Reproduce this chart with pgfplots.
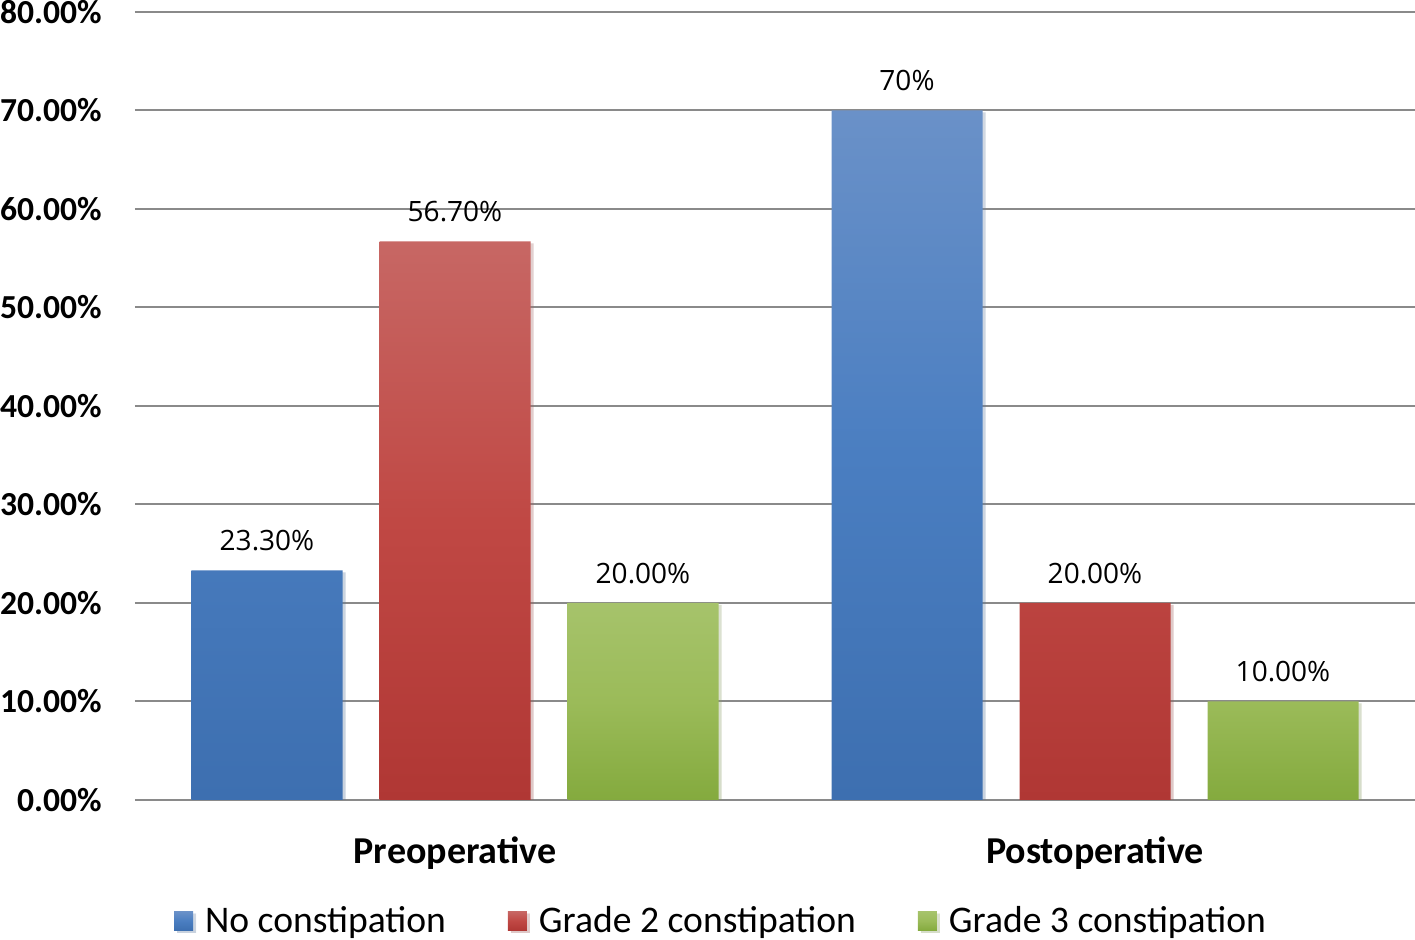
\documentclass[border=0pt]{standalone}
\usepackage{fontspec}
\setmainfont{Carlito}
\newfontfamily\lblfont{Open Sans}
\usepackage{pgfplots}
\pgfplotsset{compat=1.18}
\usepackage{pgfplotstable}
\usetikzlibrary{shadows}

\definecolor{bluetop}{HTML}{6A91C8}
\definecolor{bluemid}{HTML}{4A7EC1}
\definecolor{bluebot}{HTML}{3D6FB0}
\definecolor{redtop}{HTML}{C76764}
\definecolor{redmid}{HTML}{C04844}
\definecolor{redbot}{HTML}{B03734}
\definecolor{grntop}{HTML}{A6C36B}
\definecolor{grnmid}{HTML}{9BBB59}
\definecolor{grnbot}{HTML}{84AA3E}
\definecolor{gridgray}{HTML}{8A8A8A}

% x: 0 = Preoperative, 1 = Postoperative
\pgfplotstableread{
x y lbl
0 23.3 23.30
1 70 70
}\nocon
\pgfplotstableread{
x y lbl
0 56.7 56.70
1 20 20.00
}\gradetwo
\pgfplotstableread{
x y lbl
0 20 20.00
1 10 10.00
}\gradethree

\begin{document}
\begin{tikzpicture}
\path[use as bounding box] (0,0) rectangle (707.5pt,470pt);
\begin{axis}[
    at={(67.5pt,70pt)}, anchor=south west,
    scale only axis, width=640pt, height=394pt,
    ybar=18.5pt, bar width=75.5pt,
    xmin=-0.5, xmax=1.5, ymin=0, ymax=80,
    xtick={0,1}, xticklabels={Preoperative,Postoperative},
    ytick={0,10,...,80},
    yticklabel={\pgfmathprintnumber[fixed,fixed zerofill,precision=2]{\tick}\%},
    /pgf/number format/assume math mode=true,
    major tick length=0pt,
    axis line style={draw=none},
    ymajorgrids, grid style={gridgray, line width=1pt},
    yticklabel style={font=\bfseries\fontsize{16.8}{20}\selectfont, anchor=east, inner sep=0pt, xshift=-16.5pt},
    xticklabel style={font=\bfseries\fontsize{19}{23}\selectfont, anchor=north, inner sep=0pt, yshift=-18pt},
    nodes near coords={\pgfplotspointmeta\%},
    point meta=explicit symbolic,
    every node near coord/.append style={font=\lblfont\fontsize{14}{17}\selectfont, text=black, anchor=south, inner sep=0pt, yshift=9.5pt},
    legend style={at={(0.457,-0.1536)}, anchor=center, draw=none, fill=none,
        legend columns=-1, font=\fontsize{18.8}{22}\selectfont,
        nodes={inner sep=0pt},
        /tikz/every odd column/.append style={column sep=6pt},
        /tikz/every even column/.append style={column sep=31pt}},
    legend image code/.code={\path[#1] (0pt,-4.75pt) rectangle (9.5pt,4.75pt);},
    every axis plot/.append style={draw=none,
        drop shadow={shadow xshift=1.5pt, shadow yshift=-1pt, opacity=0.18}},
]
\addplot[top color=bluetop, bottom color=bluebot, middle color=bluemid]
    table[x=x, y=y, meta=lbl] {\nocon};
\addplot[top color=redtop, bottom color=redbot, middle color=redmid]
    table[x=x, y=y, meta=lbl] {\gradetwo};
\addplot[top color=grntop, bottom color=grnbot, middle color=grnmid]
    table[x=x, y=y, meta=lbl] {\gradethree};
\legend{No constipation, Grade 2 constipation, Grade 3 constipation}
\end{axis}
\end{tikzpicture}
\end{document}
